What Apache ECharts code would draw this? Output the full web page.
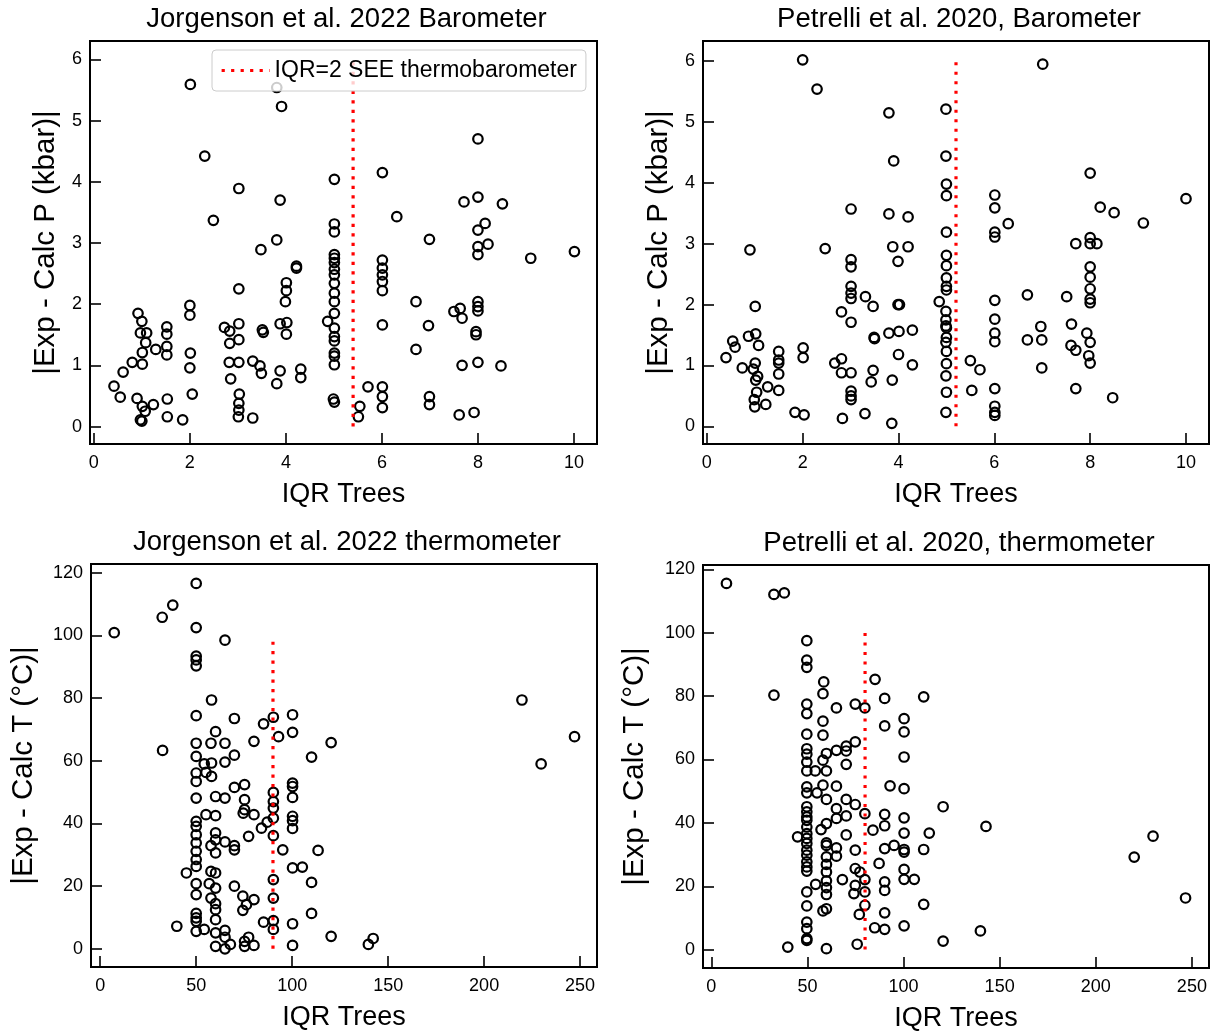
<!DOCTYPE html>
<html>
<head>
<meta charset="utf-8">
<title>IQR Trees vs. thermobarometer error</title>
<script src="https://cdn.jsdelivr.net/npm/echarts/dist/echarts.min.js"></script>
<style>
  html, body { margin: 0; padding: 0; background: #ffffff; }
  #chart { width: 1215px; height: 1032px; }
</style>
</head>
<body>
<div id="chart"></div>
<script>
// ---- Jorgenson et al. 2022 barometer: IQR of tree predictions vs |Exp - Calc P| (kbar)
const jbIqr = [2.01, 3.81, 3.91, 2.31, 3.02, 3.88, 2.49, 3.48, 3.81, 4.22, 4.22, 3.02, 4.01, 4.01, 3.99, 2.00, 2.00,
  0.92, 1.00, 0.97, 1.10, 1.08, 1.01, 1.52, 1.52, 1.52, 1.52, 1.29, 0.80, 1.01, 0.61, 0.42, 0.55, 0.90, 1.01, 1.07,
  0.97, 1.00, 1.24, 1.53, 1.53, 1.85, 2.01, 2.00, 2.05, 2.72, 2.83, 3.02, 3.02, 2.83, 2.82, 3.02, 2.85, 3.03, 3.02,
  3.02, 3.01, 3.31, 3.46, 3.49, 3.31, 3.51, 3.53, 3.81, 3.88, 3.88, 4.02, 4.01, 4.31, 4.31,
  5.01, 5.01, 5.01, 5.01, 5.01, 5.01, 5.01, 5.01, 5.01, 5.01, 5.01, 5.01, 4.87, 5.01, 5.01, 5.01, 5.01, 5.01, 5.01,
  4.99, 5.01, 5.54, 5.51, 5.71, 6.01, 6.01, 6.01, 6.01, 6.01, 6.01, 6.01, 6.01, 6.01, 6.01, 6.31, 6.71, 6.71, 6.99,
  6.97, 6.99, 6.99, 7.61, 7.92, 7.50, 7.63, 7.67, 7.71, 8.00, 8.51, 8.00, 8.15, 8.00, 8.21, 8.00, 8.00, 8.00, 8.00,
  8.00, 7.96, 7.96, 7.67, 8.00, 8.48, 9.10, 10.01];
const jbErr = [5.59, 5.54, 5.23, 4.42, 3.89, 3.70, 3.37, 2.89, 3.05, 2.62, 2.59, 2.25, 2.35, 2.22, 2.04, 1.98, 1.82,
  1.85, 1.72, 1.53, 1.53, 1.37, 1.21, 1.63, 1.51, 1.31, 1.17, 1.26, 1.05, 1.02, 0.89, 0.66, 0.48, 0.46, 0.33, 0.25,
  0.11, 0.09, 0.36, 0.45, 0.16, 0.11, 1.20, 0.96, 0.53, 1.62, 1.56, 1.68, 1.42, 1.36, 1.05, 1.05, 0.78, 0.53, 0.38,
  0.27, 0.16, 1.07, 0.99, 0.87, 0.14, 1.58, 1.54, 0.70, 0.91, 1.68, 1.70, 1.51, 0.94, 0.80,
  4.04, 3.31, 3.18, 2.81, 2.75, 2.68, 2.57, 2.48, 2.34, 2.18, 2.04, 1.85, 1.72, 1.61, 1.47, 1.40, 1.20, 1.15, 1.01,
  0.45, 0.40, 0.33, 0.16, 0.65, 4.15, 2.72, 2.59, 2.48, 2.37, 2.22, 1.66, 0.65, 0.49, 0.31, 3.43, 2.04, 1.26, 3.06,
  1.65, 0.49, 0.36, 0.19, 0.23, 1.88, 1.93, 1.77, 3.67, 3.75, 3.64, 4.70, 3.32, 3.21, 2.98, 2.94, 2.81, 2.04, 1.96,
  1.89, 1.55, 1.50, 1.00, 1.05, 0.99, 2.75, 2.86];
const jbSeeX = [5.4, 5.4];
const jbSeeY = [0, 6];

// ---- Petrelli et al. 2020 barometer
const pbIqr = [2.00, 2.30, 3.80, 3.90, 4.99, 4.99, 5.00, 5.00, 3.01, 3.80, 4.20, 0.90, 2.47, 3.88, 4.20, 3.99, 5.00,
  3.01, 3.01, 3.01, 3.01, 3.01, 3.31, 3.47, 2.81, 3.01, 3.99, 4.02, 5.00, 5.00, 5.00, 5.00, 5.00, 4.85, 4.99, 4.99,
  4.99, 5.00, 5.00, 4.99, 5.00, 5.00, 4.99, 5.00, 4.99, 3.49, 3.50, 3.80, 4.01, 4.29, 4.00, 4.29, 3.87, 3.86, 3.47,
  3.43, 3.30, 3.01, 2.81, 2.67, 2.81, 3.01, 3.01, 3.01, 2.83, 1.84, 2.03, 2.01, 2.01, 1.01, 0.87, 1.02, 1.08, 0.54,
  0.59, 0.40, 0.74, 1.01, 0.97, 1.06, 1.02, 1.04, 0.99, 1.00, 1.27, 1.23, 1.50, 1.50, 1.50, 1.50, 1.50,
  7.01, 8.00, 6.01, 6.01, 6.01, 6.01, 6.29, 8.21, 8.50, 9.11, 10.00, 7.70, 8.00, 8.00, 8.14, 8.00, 8.00, 8.00, 8.00,
  8.00, 6.69, 7.51, 6.01, 6.01, 6.01, 6.01, 6.97, 6.69, 6.99, 6.99, 7.61, 7.93, 8.00, 7.60, 7.70, 7.97, 8.00, 7.70,
  8.47, 5.50, 5.70, 5.53, 6.01, 6.01, 6.01, 6.01];
const pbErr = [6.02, 5.54, 5.15, 4.36, 5.21, 4.44, 3.98, 3.79, 3.57, 3.49, 3.44, 2.90, 2.92, 2.95, 2.95, 2.71, 3.19,
  2.74, 2.62, 2.30, 2.19, 2.10, 2.13, 1.97, 1.88, 1.71, 2.00, 2.00, 2.81, 2.64, 2.44, 2.30, 2.24, 2.05, 1.89, 1.75,
  1.65, 1.62, 1.46, 1.38, 1.23, 1.03, 0.83, 0.56, 0.23, 1.46, 1.44, 1.53, 1.56, 1.58, 1.18, 1.01, 0.76, 0.05, 0.92,
  0.73, 0.21, 0.88, 0.88, 1.04, 1.11, 0.58, 0.50, 0.44, 0.13, 0.23, 0.19, 1.29, 1.13, 1.97, 1.48, 1.52, 1.33, 1.40,
  1.30, 1.13, 0.96, 1.04, 0.94, 0.82, 0.76, 0.56, 0.44, 0.32, 0.65, 0.36, 1.23, 1.09, 1.04, 0.86, 0.59,
  5.95, 4.16, 3.80, 3.59, 3.19, 3.11, 3.33, 3.60, 3.51, 3.34, 3.74, 3.00, 3.10, 3.00, 3.00, 2.62, 2.45, 2.26, 2.09,
  2.03, 2.16, 2.13, 2.07, 1.76, 1.53, 1.39, 1.64, 1.42, 1.42, 0.96, 1.68, 1.53, 1.38, 1.33, 1.25, 1.16, 1.04, 0.62,
  0.47, 1.08, 0.93, 0.59, 0.62, 0.33, 0.23, 0.18];
const pbSeeX = [5.2, 5.2];
const pbSeeY = [0, 6];

// ---- Jorgenson et al. 2022 thermometer: |Exp - Calc T| (°C)
const jtIqr = [7.3, 32.3, 37.8, 50, 50, 65.0, 50, 50, 50, 58.0, 50, 69.9, 85.1, 90.2, 100.2, 100.2, 92.9, 60.1, 32.5,
  50, 57.7, 65.0, 80.1, 120.3, 50, 54.2, 58.0, 65.0, 69.9, 110.1, 50, 55.1, 58.0, 50, 69.9, 75.2, 90.2, 100.2, 100.2,
  100.2, 50, 60.1, 65.0, 75.2, 90.2, 90.2, 90.2, 90.2, 75.2, 74.5, 80.1, 55.1, 60.1, 50, 50, 50, 50, 50, 50, 50, 44.9,
  87.0, 84.0, 100.2, 100.2, 100.2, 60.1, 60.1, 57.7, 65.0, 60.1, 69.9, 69.9, 77.3, 95.1, 113.5, 57.7, 60.1, 50, 56.8,
  60.1, 100.2, 105.3, 110.1, 69.9, 90.2, 50, 57.7, 60.1, 74.3, 80.1, 76.2, 74.3, 90.2, 60.1, 110.1, 50, 50, 50, 39.9,
  54.2, 50, 60.1, 60.1, 65.0, 65.0, 60.1, 65.0, 67.8, 85.1, 90.2, 90.2, 100.2, 100.2, 75.2, 77.3, 80.1, 75.2, 120.3,
  139.7, 142.2, 219.7, 229.7, 247.1];
const jtErr = [100.9, 105.8, 109.7, 116.6, 102.5, 98.5, 93.4, 92.2, 90.3, 79.4, 74.4, 73.5, 71.8, 73.9, 74.7, 69.1,
  67.7, 69.3, 63.3, 65.6, 65.6, 65.6, 66.2, 65.8, 61.4, 59.0, 59.3, 59.6, 61.8, 61.2, 56.1, 56.3, 55.0, 53.4, 51.5,
  52.4, 49.9, 52.9, 51.8, 48.3, 48.1, 48.6, 48.1, 47.6, 47.0, 44.9, 41.7, 36.1, 44.4, 43.3, 42.8, 42.8, 42.5, 40.7,
  39.1, 36.4, 33.8, 31.1, 28.5, 26.3, 24.2, 40.4, 38.5, 42.3, 40.9, 38.4, 37.0, 34.8, 32.9, 34.1, 30.6, 32.9, 31.6,
  35.9, 31.6, 31.4, 24.7, 24.2, 20.8, 20.8, 19.4, 25.8, 26.1, 21.2, 20.0, 22.1, 17.3, 16.2, 14.4, 16.8, 15.7, 14.1,
  12.3, 16.2, 12.5, 11.3, 11.3, 9.9, 8.8, 7.2, 6.2, 5.6, 9.3, 5.1, 5.9, 3.7, 0.8, 0.0, 1.4, 8.5, 9.0, 6.2, 8.0, 1.1,
  2.4, 3.7, 1.1, 0.8, 4.0, 1.4, 3.3, 79.4, 59.0, 67.7];
const jtSeeX = [90, 90];
const jtSeeY = [0, 98];

// ---- Petrelli et al. 2020 thermometer
const ptIqr = [7.9, 32.6, 38.0, 32.6, 49.7, 49.7, 49.7, 58.5, 58.1, 85.2, 90.2, 110.5, 49.7, 49.7, 65.1, 74.9, 79.9,
  58.1, 100.3, 100.3, 90.2, 49.7, 58.1, 74.9, 49.7, 49.7, 49.7, 49.7, 59.9, 65.1, 70.2, 70.2, 58.1, 70.2, 59.9, 54.1,
  100.3, 49.7, 49.7, 55.0, 58.1, 65.1, 59.9, 70.2, 74.9, 93.0, 100.3, 120.6, 49.7, 49.7, 49.7, 49.7, 49.7, 49.7, 49.7,
  49.7, 49.7, 49.7, 49.7, 49.7, 49.7, 44.9, 57.1, 59.9, 65.1, 70.2, 65.1, 79.9, 90.2, 90.2, 84.1, 100.3, 100.3, 113.4,
  70.2, 59.9, 59.9, 65.1, 65.1, 74.9, 90.2, 95.1, 100.3, 100.3, 110.5, 59.9, 59.9, 59.9, 59.9, 59.9, 59.9, 87.3, 74.9,
  77.3, 68.2, 79.9, 54.3, 49.7, 74.9, 74.2, 79.9, 90.2, 90.2, 100.3, 100.3, 105.6, 49.7, 58.1, 59.9, 79.9, 77.0, 90.2,
  110.5, 49.7, 49.7, 49.7, 49.7, 85.0, 90.2, 100.3, 39.8, 59.9, 75.9, 120.6, 142.9, 140.0, 220.0, 229.8, 246.7];
const ptErr = [115.6, 112.1, 112.6, 80.3, 97.5, 91.4, 89.1, 84.5, 80.8, 85.3, 79.3, 79.8, 77.5, 74.5, 76.3, 77.5,
  76.3, 72.1, 72.9, 68.7, 70.6, 68.0, 67.7, 65.6, 63.4, 61.7, 59.2, 56.4, 61.9, 62.9, 64.2, 62.7, 59.8, 58.5, 56.4,
  56.4, 60.8, 51.4, 49.5, 49.5, 51.9, 51.6, 47.4, 47.4, 45.8, 51.7, 50.8, 45.1, 45.1, 43.5, 41.9, 40.8, 38.7, 36.6,
  35.1, 33.5, 31.4, 29.8, 27.7, 26.1, 24.8, 35.6, 37.9, 39.8, 44.5, 42.2, 41.4, 42.9, 42.7, 39.1, 37.7, 41.6, 36.8,
  36.8, 36.2, 33.7, 32.9, 32.1, 29.5, 31.4, 31.9, 32.9, 31.6, 30.8, 31.6, 29.3, 26.9, 24.5, 21.7, 19.6, 17.4, 27.2,
  25.6, 24.5, 22.1, 22.1, 20.6, 18.2, 20.3, 17.7, 18.2, 21.4, 18.7, 25.3, 22.2, 22.2, 13.8, 12.2, 12.9, 14.0, 11.1,
  11.6, 14.3, 8.7, 6.6, 3.5, 2.9, 6.9, 6.4, 7.5, 0.8, 0.3, 1.7, 2.7, 38.9, 5.9, 29.2, 35.8, 16.3];
const ptSeeX = [80, 80];
const ptSeeY = [0, 100];

// tick values shown on the axes
const pressureTicks = [0, 1, 2, 3, 4, 5, 6];
const temperatureTicks = [0, 20, 40, 60, 80, 100, 120];
const iqrPTicks = [0, 2, 4, 6, 8, 10];
const iqrTTicks = [0, 50, 100, 150, 200, 250];

const SEE_NAME = 'IQR=2 SEE thermobarometer';
const FONT = "'Liberation Sans', Arial, Helvetica, sans-serif";

function zip(xs, ys) { return xs.map((x, i) => [x, ys[i]]); }

const panels = [
  { title: 'Jorgenson et al. 2022 Barometer', x: jbIqr, y: jbErr, sx: jbSeeX, sy: jbSeeY,
    grid: { left: 90, top: 41, width: 507, height: 403 },
    xr: [-0.08, 10.48], yr: [-0.285, 6.3], xt: iqrPTicks, yt: pressureTicks,
    yName: '|Exp - Calc P (kbar)|', yGap: 29 },
  { title: 'Petrelli et al. 2020, Barometer', x: pbIqr, y: pbErr, sx: pbSeeX, sy: pbSeeY,
    grid: { left: 703, top: 41, width: 506, height: 403 },
    xr: [-0.08, 10.48], yr: [-0.29, 6.33], xt: iqrPTicks, yt: pressureTicks,
    yName: '|Exp - Calc P (kbar)|', yGap: 29 },
  { title: 'Jorgenson et al. 2022 thermometer', x: jtIqr, y: jtErr, sx: jtSeeX, sy: jtSeeY,
    grid: { left: 91, top: 564, width: 506, height: 403 },
    xr: [-4.8, 258.8], yr: [-5.8, 122.8], xt: iqrTTicks, yt: temperatureTicks,
    yName: '|Exp - Calc T (°C)|', yGap: 52 },
  { title: 'Petrelli et al. 2020, thermometer', x: ptIqr, y: ptErr, sx: ptSeeX, sy: ptSeeY,
    grid: { left: 703, top: 565, width: 506, height: 403 },
    xr: [-4.3, 258.9], yr: [-5.8, 121.4], xt: iqrTTicks, yt: temperatureTicks,
    yName: '|Exp - Calc T (°C)|', yGap: 53 }
];

const tickStyle = { show: true, inside: true, length: 11, lineStyle: { color: '#000', width: 1.6 } };

const option = {
  backgroundColor: '#ffffff',
  animation: false,
  textStyle: { fontFamily: FONT, color: '#000' },
  title: panels.map(p => ({
    text: p.title,
    left: p.grid.left + p.grid.width / 2 - 2,
    top: p.grid.top - 41,
    textAlign: 'center',
    textStyle: { fontFamily: FONT, fontSize: 27.5, fontWeight: 'normal', color: '#000' }
  })),
  legend: {
    data: [SEE_NAME],
    left: 212, top: 50,
    orient: 'vertical',
    padding: [9, 9, 9, 8],
    itemWidth: 48, itemHeight: 14,
    backgroundColor: 'rgba(255,255,255,0.8)',
    borderColor: '#cccccc', borderWidth: 1, borderRadius: 4,
    itemStyle: { color: 'rgba(0,0,0,0)', borderWidth: 0, opacity: 0 },
    lineStyle: { color: '#ff0000', width: 3.2, type: [3.2, 6.3], opacity: 1 },
    textStyle: { fontFamily: FONT, fontSize: 23, color: '#000' },
    selectedMode: false
  },
  grid: panels.map(p => Object.assign({
    show: true, borderColor: '#000', borderWidth: 2, backgroundColor: 'transparent',
    containLabel: false, outerBoundsMode: 'none'
  }, p.grid)),
  xAxis: panels.map((p, i) => ({
    type: 'value', gridIndex: i, min: p.xr[0], max: p.xr[1],
    axisTick: Object.assign({ customValues: p.xt }, tickStyle),
    axisLabel: { show: true, color: '#000', fontSize: 18, fontFamily: FONT, margin: 10, customValues: p.xt },
    axisLine: { show: false, onZero: false },
    splitLine: { show: false },
    name: 'IQR Trees', nameLocation: 'middle', nameGap: 37, nameMoveOverlap: false,
    nameTextStyle: { fontFamily: FONT, fontSize: 27, color: '#000' }
  })),
  yAxis: panels.map((p, i) => ({
    type: 'value', gridIndex: i, min: p.yr[0], max: p.yr[1],
    axisTick: Object.assign({ customValues: p.yt }, tickStyle),
    axisLabel: { show: true, color: '#000', fontSize: 18, fontFamily: FONT, margin: 8, customValues: p.yt },
    axisLine: { show: false, onZero: false },
    splitLine: { show: false },
    name: p.yName, nameLocation: 'middle', nameRotate: 90, nameGap: p.yGap, nameMoveOverlap: false,
    nameTextStyle: { fontFamily: FONT, fontSize: 29.5, color: '#000' }
  })),
  series: panels.flatMap((p, i) => [
    {
      type: 'scatter', xAxisIndex: i, yAxisIndex: i,
      data: zip(p.x, p.y),
      symbol: 'circle', symbolSize: 9.5,
      itemStyle: { color: 'rgba(0,0,0,0)', borderColor: '#000', borderWidth: 2.2, opacity: 1 },
      emphasis: { disabled: true },
      silent: true, z: 2
    },
    {
      name: SEE_NAME,
      type: 'line', xAxisIndex: i, yAxisIndex: i,
      data: zip(p.sx, p.sy),
      symbol: 'none',
      lineStyle: { color: '#ff0000', width: 3.2, type: [3.2, 6.3], cap: 'butt' },
      itemStyle: { color: '#ff0000' },
      emphasis: { disabled: true },
      silent: true, z: 3
    }
  ])
};

const chart = echarts.init(document.getElementById('chart'), null, { renderer: 'canvas' });
chart.setOption(option);
</script>
</body>
</html>
